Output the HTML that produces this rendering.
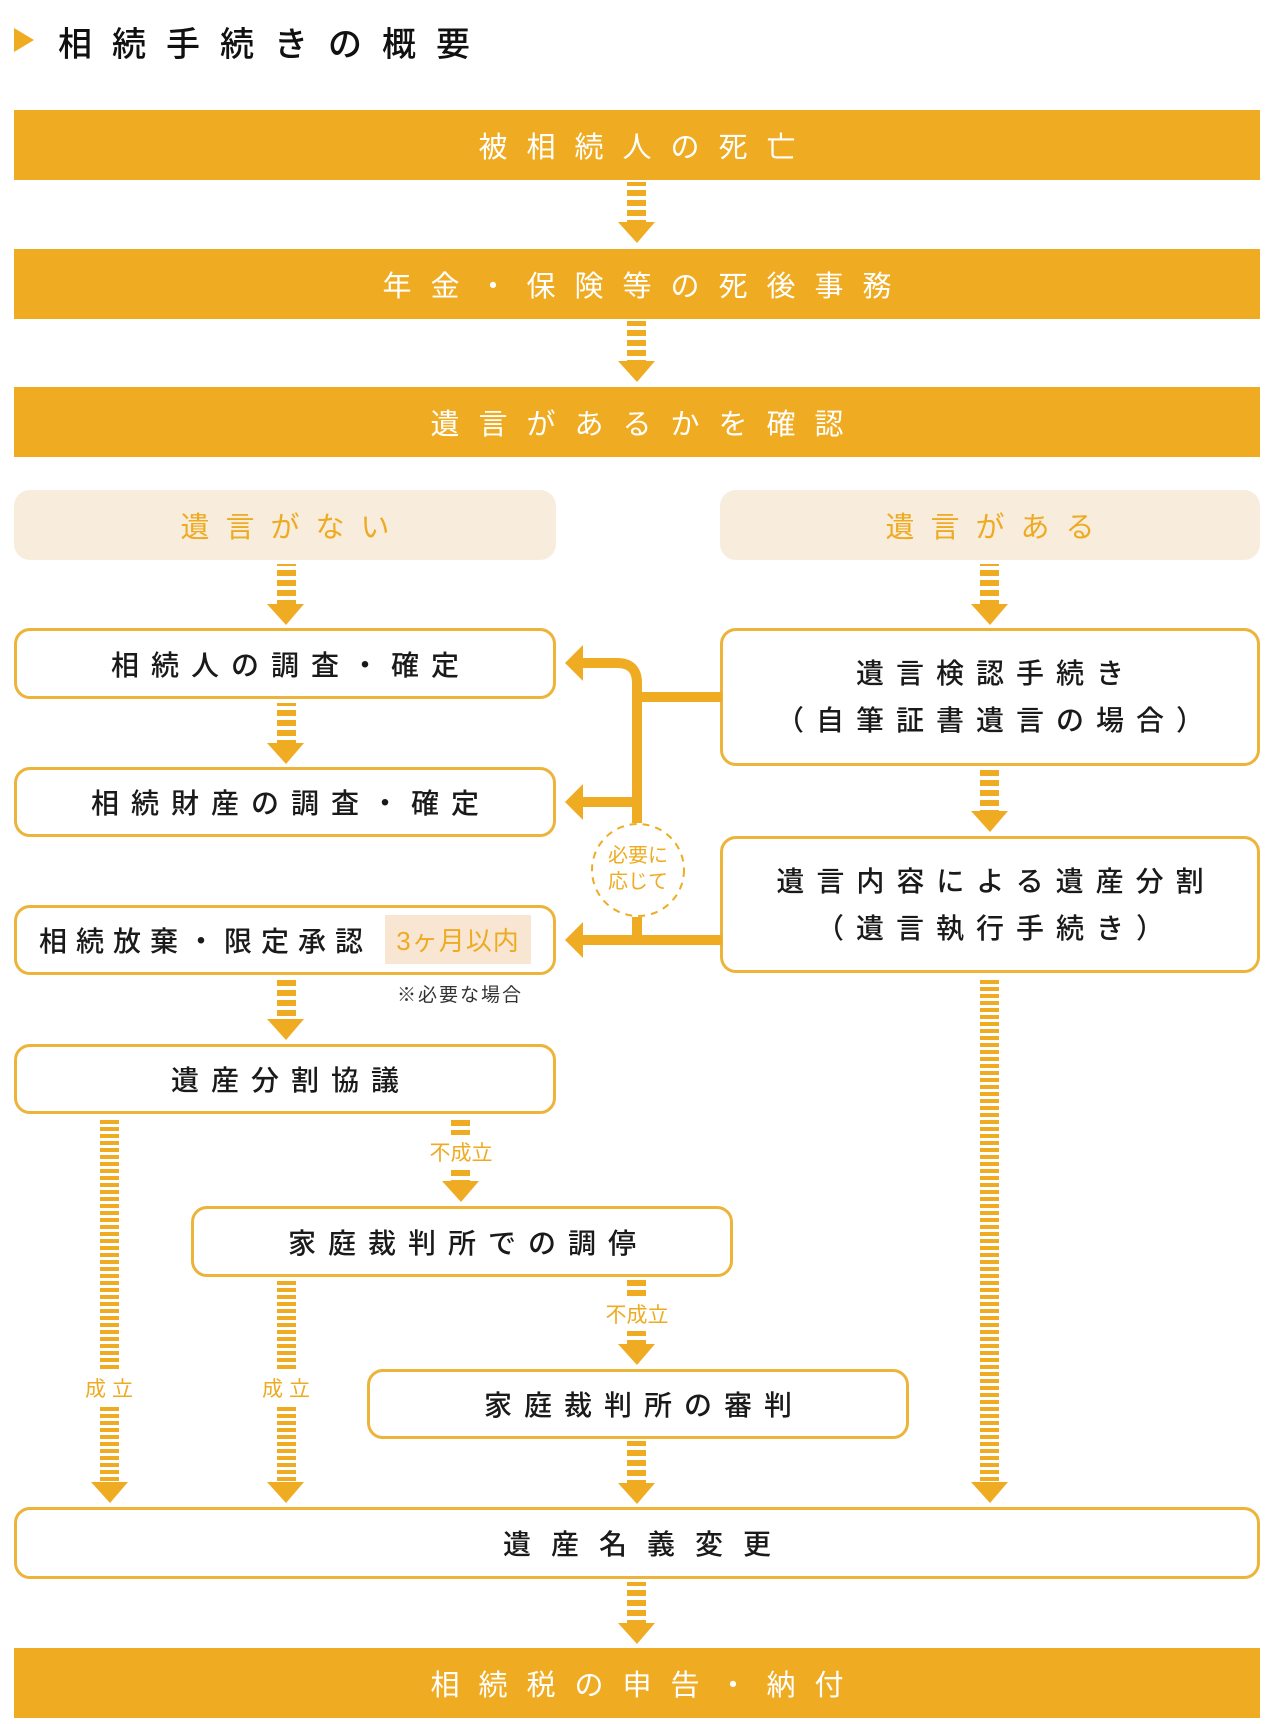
<!DOCTYPE html>
<html><head><meta charset="utf-8"><style>
body{margin:0;width:1280px;height:1724px;background:#fff;position:relative;overflow:hidden;font-family:"Liberation Sans","Noto Sans CJK JP",sans-serif;}
.a{position:absolute;box-sizing:border-box;display:flex;align-items:center;justify-content:center;white-space:nowrap;}
.bar{background:#efab22;color:#fff;font-size:29px;letter-spacing:19px;padding-left:19px;left:14px;width:1246px;height:70px;}
.pill{background:#f8ecdc;color:#eeab22;font-size:29px;letter-spacing:16px;padding-left:16px;border-radius:16px;height:70px;top:490px;}
.box{border:3px solid #ecb43a;border-radius:16px;background:#fff;color:#1a1a1a;font-size:28px;letter-spacing:12px;padding-left:12px;font-weight:500;}
.lbl{color:#eeab22;font-size:21px;position:absolute;transform:translate(-50%,-50%);white-space:nowrap;background:#fff;padding:2px 0;}
</style></head><body>
<svg width="26" height="30" style="position:absolute;left:12px;top:26px"><polygon points="2,2 22,14 2,26" fill="#efab22"/></svg>
<div class="a" style="left:58px;top:18px;height:46px;font-size:34px;letter-spacing:20px;color:#111;font-weight:500">相続手続きの概要</div>

<div class="a bar" style="top:110px">被相続人の死亡</div>
<div class="a bar" style="top:249px">年金・保険等の死後事務</div>
<div class="a bar" style="top:387px">遺言があるかを確認</div>
<div class="a pill" style="left:14px;width:542px">遺言がない</div>
<div class="a pill" style="left:720px;width:540px">遺言がある</div>

<div class="a box" style="left:14px;top:628px;width:542px;height:71px">相続人の調査・確定</div>
<div class="a box" style="left:720px;top:628px;width:540px;height:138px;flex-direction:column;line-height:47px">遺言検認手続き<br><span>（自筆証書遺言の場合）</span></div>
<div class="a box" style="left:14px;top:767px;width:542px;height:70px">相続財産の調査・確定</div>
<div class="a box" style="left:720px;top:836px;width:540px;height:137px;flex-direction:column;line-height:47px">遺言内容による遺産分割<br><span>（遺言執行手続き）</span></div>
<div class="a box" style="left:14px;top:905px;width:542px;height:70px;justify-content:flex-start;padding-left:22px;letter-spacing:9px">相続放棄・限定承認</div>
<div class="a" style="left:385px;top:915px;width:146px;height:49px;background:#f8e6d2;color:#eeab22;font-size:26px;letter-spacing:1px">3ヶ月以内</div>
<div class="a" style="left:385px;top:980px;width:150px;height:26px;font-size:19px;color:#333;letter-spacing:2px">※必要な場合</div>
<div class="a box" style="left:14px;top:1044px;width:542px;height:70px">遺産分割協議</div>
<div class="a box" style="left:191px;top:1206px;width:542px;height:71px">家庭裁判所での調停</div>
<div class="a box" style="left:367px;top:1369px;width:542px;height:70px">家庭裁判所の審判</div>
<div class="a box" style="left:14px;top:1507px;width:1246px;height:72px;letter-spacing:20px;padding-left:20px">遺産名義変更</div>
<div class="a bar" style="top:1648px">相続税の申告・納付</div>

<svg width="1280" height="1724" style="position:absolute;left:0;top:0;pointer-events:none">
<defs>
<pattern id="d1" width="20" height="10" patternUnits="userSpaceOnUse"><rect width="20" height="6" fill="#efab22"/></pattern>
<pattern id="d2" width="20" height="7" patternUnits="userSpaceOnUse"><rect width="20" height="4" fill="#efab22"/></pattern>
</defs>
<g fill="#efab22">
<rect x="627" y="182" width="19" height="42" fill="url(#d1)"/><polygon points="618,222 655,222 637,243"/>
<rect x="627" y="321" width="19" height="42" fill="url(#d1)"/><polygon points="618,361 655,361 637,382"/>
<rect x="277" y="564" width="19" height="40" fill="url(#d1)"/><polygon points="267,604 304,604 286,625"/>
<rect x="980" y="564" width="19" height="40" fill="url(#d1)"/><polygon points="971,604 1008,604 990,625"/>
<rect x="277" y="703" width="19" height="41" fill="url(#d1)"/><polygon points="267,743 304,743 286,764"/>
<rect x="980" y="770" width="19" height="41" fill="url(#d1)"/><polygon points="971,811 1008,811 990,832"/>
<rect x="277" y="979" width="19" height="40" fill="url(#d1)"/><polygon points="267,1019 304,1019 286,1040"/>
<rect x="451" y="1117" width="19" height="64" fill="url(#d1)"/><polygon points="442,1181 479,1181 461,1202"/>
<rect x="627" y="1280" width="19" height="64" fill="url(#d1)"/><polygon points="618,1344 655,1344 637,1365"/>
<rect x="627" y="1441" width="19" height="42" fill="url(#d1)"/><polygon points="618,1483 655,1483 637,1504"/>
<rect x="627" y="1582" width="19" height="42" fill="url(#d1)"/><polygon points="618,1623 655,1623 637,1644"/>
<rect x="100" y="1117" width="19" height="366" fill="url(#d2)"/><polygon points="91,1482 128,1482 110,1503"/>
<rect x="277" y="1280" width="19" height="203" fill="url(#d2)"/><polygon points="267,1482 304,1482 286,1503"/>
<rect x="980" y="978" width="19" height="505" fill="url(#d2)"/><polygon points="971,1482 1008,1482 990,1503"/>
</g>
<g fill="none" stroke="#efab22" stroke-width="10">
<path d="M637 823 V683 Q637 663 617 663 H578"/>
<path d="M637 697 H722"/>
<path d="M637 802 H578"/>
<path d="M637 917 V940"/>
<path d="M722 940 H578"/>
</g>
<g fill="#efab22">
<polygon points="565,663 583,645 583,681"/>
<polygon points="565,802 583,784 583,820"/>
<polygon points="565,940 583,922 583,958"/>
</g>
<circle cx="638" cy="870" r="46" fill="#fff" stroke="#efab22" stroke-width="2" stroke-dasharray="7,6"/>
<text x="638" y="862" fill="#eeab22" font-size="20" text-anchor="middle" font-family="Liberation Sans, Noto Sans CJK JP, sans-serif">必要に</text>
<text x="638" y="888" fill="#eeab22" font-size="20" text-anchor="middle" font-family="Liberation Sans, Noto Sans CJK JP, sans-serif">応じて</text>
</svg>
<div class="lbl" style="left:461px;top:1152px">不成立</div>
<div class="lbl" style="left:637px;top:1314px">不成立</div>
<div class="lbl" style="left:109px;top:1388px;letter-spacing:6px;padding-left:6px">成立</div>
<div class="lbl" style="left:286px;top:1388px;letter-spacing:6px;padding-left:6px">成立</div>
</body></html>
